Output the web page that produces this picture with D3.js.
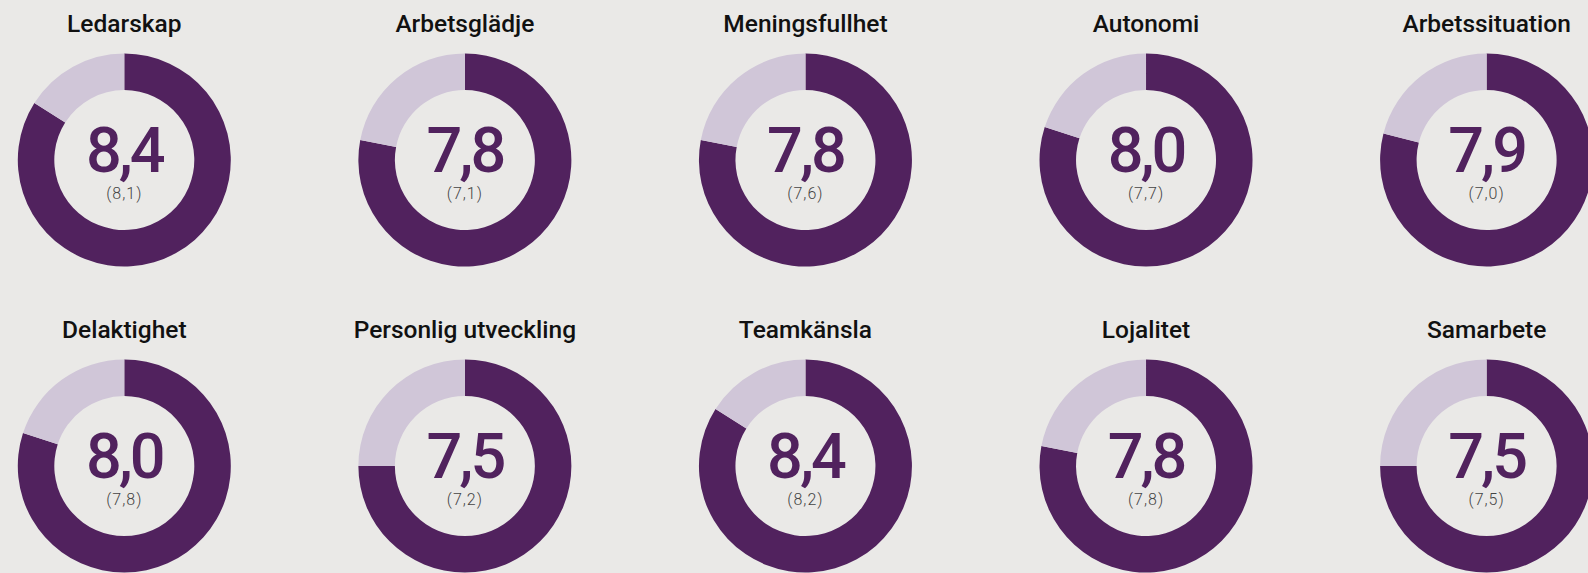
<!DOCTYPE html>
<html>
<head>
<meta charset="utf-8">
<script src="https://cdn.jsdelivr.net/npm/d3@7"></script>
<style>
  html, body { margin: 0; padding: 0; background: #eae9e7; overflow: hidden; }
  svg { display: block; }
</style>
</head>
<body>
<svg id="chart"></svg>
<script>
// survey indices, current value and (previous value)
const categories = [
    'Ledarskap', 'Arbetsglädje', 'Meningsfullhet', 'Autonomi', 'Arbetssituation',
    'Delaktighet', 'Personlig utveckling', 'Teamkänsla', 'Lojalitet', 'Samarbete'
];
const values = [8.4, 7.8, 7.8, 8.0, 7.9, 8.0, 7.5, 8.4, 7.8, 7.5];
const previous = [8.1, 7.1, 7.6, 7.7, 7.0, 7.8, 7.2, 8.2, 7.8, 7.5];
const maxScore = 10;

const width = 1588,
    height = 573;
const cols = 5;

const svg = d3.select('#chart')
    .attr('width', width)
    .attr('height', height);

const x = d3.scaleLinear().domain([0, cols - 1]).range([124.3, 1486.6]);
const y = d3.scaleLinear().domain([0, 1]).range([160, 466]);

const arc = d3.arc().innerRadius(70).outerRadius(106.5);
const pie = d3.pie().sort(null).value((d) => d);
const colors = ['#51225e', '#d0c6d8'];

const fmt = d3.formatLocale({ decimal: ',', thousands: ' ', grouping: [3], currency: ['', ' kr'] }).format('.1f');

const cells = svg.selectAll('.donut')
    .data(categories)
    .enter().append('g')
    .attr('class', 'donut')
    .attr('transform', (d, i) => 'translate(' + x(i % cols) + ',' + y(Math.floor(i / cols)) + ')');

cells.selectAll('path')
    .data((d, i) => pie([values[i], maxScore - values[i]]))
    .enter().append('path')
    .attr('d', arc)
    .attr('fill', (d, j) => colors[j]);

cells.append('text')
    .attr('y', -128.3)
    .attr('text-anchor', 'middle')
    .style('font-family', 'Roboto, sans-serif')
    .style('font-weight', 500)
    .style('font-size', '24.5px')
    .attr('fill', '#111')
    .text((d) => d);

cells.append('text')
    .attr('y', 11.7)
    .attr('text-anchor', 'middle')
    .style('font-family', 'Roboto, sans-serif')
    .style('font-weight', 500)
    .style('font-size', '63px')
    .style('letter-spacing', '-3px')
    .attr('fill', '#51225e')
    .text((d, i) => fmt(values[i]));

cells.append('text')
    .attr('y', 39)
    .attr('text-anchor', 'middle')
    .style('font-family', 'Roboto, sans-serif')
    .style('font-weight', 300)
    .style('font-size', '16px')
    .style('letter-spacing', '1px')
    .attr('fill', '#444')
    .text((d, i) => '(' + fmt(previous[i]) + ')');
</script>
</body>
</html>
